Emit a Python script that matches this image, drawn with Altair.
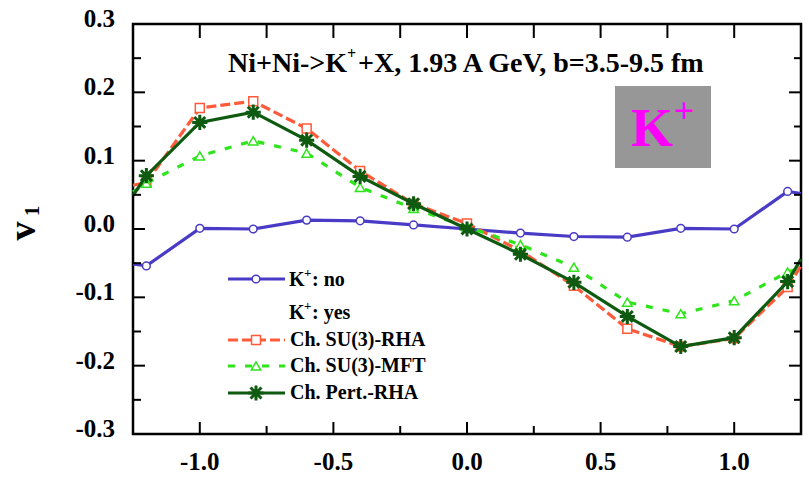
import altair as alt
import pandas as pd

# rapidity points (y_cm / y_proj) and the frame edges where the curves leave the box
rapidity = [-1.2, -1.0, -0.8, -0.6, -0.4, -0.2, 0.0, 0.2, 0.4, 0.6, 0.8, 1.0, 1.2]
edge_x = [-1.25, 1.25]

# directed flow v1 of K+ for each calculation
v1_no_pot = [-0.054, 0.001, 0.0, 0.013, 0.012, 0.006, 0.0, -0.006, -0.011, -0.012, 0.001, 0.0, 0.055]
v1_su3_rha = [0.068, 0.177, 0.187, 0.147, 0.085, 0.037, 0.008, -0.032, -0.083, -0.146, -0.172, -0.160, -0.085]
v1_su3_mft = [0.067, 0.107, 0.129, 0.111, 0.061, 0.030, 0.003, -0.023, -0.056, -0.107, -0.124, -0.105, -0.063]
v1_pert_rha = [0.078, 0.156, 0.171, 0.130, 0.077, 0.037, 0.0, -0.037, -0.078, -0.128, -0.172, -0.159, -0.077]

# values where each curve crosses the left / right frame
edge_no_pot = [-0.051, 0.052]
edge_su3_rha = [0.064, -0.054]
edge_su3_mft = [0.054, -0.057]
edge_pert_rha = [0.049, -0.044]

x_major = [-1.0, -0.5, 0.0, 0.5, 1.0]
x_minor = [-0.75, -0.25, 0.25, 0.75]
y_major = [-0.3, -0.2, -0.1, 0.0, 0.1, 0.2, 0.3]
y_minor = [-0.25, -0.15, -0.05, 0.05, 0.15, 0.25]
x_labels = ["-1.0", "-0.5", "0.0", "0.5", "1.0"]
y_labels = ["-0.3", "-0.2", "-0.1", "0.0", "0.1", "0.2", "0.3"]

W, H = 668, 410
FONT = "Liberation Serif"
STAR = "M-1,0L1,0M0,-1L0,1M-0.72,-0.72L0.72,0.72M-0.72,0.72L0.72,-0.72"

series = [
    # name, values, edges, color, dash, shape, marker size
    ("no", v1_no_pot, edge_no_pot, "#4a3bc6", None, "circle", 60),
    ("su3_rha", v1_su3_rha, edge_su3_rha, "#ff5a3a", [10, 4], "square", 80),
    ("su3_mft", v1_su3_mft, edge_su3_mft, "#2ee41a", [7, 10], "triangle-up", 90),
    ("pert_rha", v1_pert_rha, edge_pert_rha, "#0d5a10", None, STAR, 230),
]

xs = alt.Scale(domain=[-1.25, 1.25], nice=False, zero=False)
ys = alt.Scale(domain=[-0.3, 0.3], nice=False, zero=False)


def X(field):
    return alt.X(field, type="quantitative", scale=xs, axis=None)


def Y(field):
    return alt.Y(field, type="quantitative", scale=ys, axis=None)


def one():
    return alt.Data(values=[{"a": 0}])


def marker(data, color, shape, size):
    if shape == STAR:
        return alt.Chart(data).mark_point(shape=shape, filled=False, stroke=color,
                                          strokeWidth=3, size=size, opacity=1)
    return alt.Chart(data).mark_point(shape=shape, filled=True, fill="white",
                                      stroke=color, strokeWidth=1.5, size=size, opacity=1)


layers = []

for name, vals, edges, color, dash, shape, size in series:
    line_df = pd.DataFrame({
        "x": [edge_x[0]] + rapidity + [edge_x[1]],
        "v1": [edges[0]] + vals + [edges[1]],
    })
    pts_df = pd.DataFrame({"x": rapidity, "v1": vals})
    line_kw = dict(color=color, strokeWidth=3.2)
    if dash:
        line_kw["strokeDash"] = dash
    layers.append(alt.Chart(line_df).mark_line(**line_kw).encode(x=X("x"), y=Y("v1")))
    layers.append(marker(pts_df, color, shape, size).encode(x=X("x"), y=Y("v1")))


# inward ticks on all four sides
def xticks(vals, y0, y1):
    return alt.Chart(pd.DataFrame({"x": vals})).mark_rule(color="black", strokeWidth=2).encode(
        x=X("x"), y=alt.value(y0), y2=alt.value(y1))


def yticks(vals, x0, x1):
    return alt.Chart(pd.DataFrame({"v": vals})).mark_rule(color="black", strokeWidth=2).encode(
        y=Y("v"), x=alt.value(x0), x2=alt.value(x1))


layers += [
    xticks(x_major, H, H - 12),
    xticks(x_minor, H, H - 8),
    xticks(x_major + x_minor, 0, 14),
    yticks(y_major, 0, 12),
    yticks(y_minor, 0, 8),
    yticks(y_major, W, W - 12),
    yticks(y_minor, W, W - 7),
]

# tick labels
layers.append(
    alt.Chart(pd.DataFrame({"x": x_major, "t": x_labels})).mark_text(
        font=FONT, fontWeight="bold", fontSize=25, baseline="middle", align="center"
    ).encode(x=X("x"), y=alt.value(H + 28), text="t:N")
)
layers.append(
    alt.Chart(pd.DataFrame({"v": y_major, "t": y_labels})).mark_text(
        font=FONT, fontWeight="bold", fontSize=25, baseline="middle", align="right", dy=-5
    ).encode(y=Y("v"), x=alt.value(-18), text="t:N")
)


def label(text, x, y, size, color="black", align="left", baseline="middle", angle=0):
    kw = dict(font=FONT, fontWeight="bold", fontSize=size, color=color,
              align=align, baseline=baseline)
    if angle:
        kw["angle"] = angle
    return alt.Chart(one()).mark_text(**kw).encode(
        x=alt.value(x), y=alt.value(y), text=alt.value(text))


# y-axis title v1
layers.append(label("v", -109, 207, 38, align="center", angle=270))
layers.append(label("1", -100, 187, 21, align="center", angle=270))

# reaction title
layers.append(label("Ni+Ni->K", 95, 48, 28, baseline="alphabetic"))
layers.append(label("+", 214, 35, 16, baseline="alphabetic"))
layers.append(label("+X, 1.93 A GeV, b=3.5-9.5 fm", 225, 48, 28, baseline="alphabetic"))

# K+ badge
layers.append(
    alt.Chart(one()).mark_rect(color="#979797").encode(
        x=alt.value(482), x2=alt.value(578), y=alt.value(62), y2=alt.value(144))
)
layers.append(label("K", 519, 106, 54, color="#ff00ff", align="center"))
layers.append(label("+", 551, 88, 36, color="#ff00ff", align="center"))

# legend
legend_rows = [("no", 255), ("su3_rha", 316), ("su3_mft", 342), ("pert_rha", 369)]
legend_text = {
    "su3_rha": "Ch. SU(3)-RHA",
    "su3_mft": "Ch. SU(3)-MFT",
    "pert_rha": "Ch. Pert.-RHA",
}
style = {s[0]: s for s in series}
for name, yy in legend_rows:
    _, _, _, color, dash, shape, size = style[name]
    kw = dict(color=color, strokeWidth=3.2)
    if dash:
        kw["strokeDash"] = dash
    layers.append(alt.Chart(one()).mark_rule(**kw).encode(
        x=alt.value(95), x2=alt.value(152), y=alt.value(yy)))
    layers.append(marker(one(), color, shape, size).encode(x=alt.value(123), y=alt.value(yy)))
    if name in legend_text:
        layers.append(label(legend_text[name], 157, yy, 20))

layers.append(label("K", 156, 256, 20))
layers.append(label("+", 171, 249, 13))
layers.append(label(": no", 179, 256, 20))
layers.append(label("K", 156, 289, 20))
layers.append(label("+", 171, 282, 13))
layers.append(label(": yes", 179, 289, 20))

chart = alt.layer(*layers).properties(
    width=W, height=H,
    autosize=alt.AutoSizeParams(type="none"),
    padding={"left": 133, "top": 24, "right": 8, "bottom": 45},
    background="white",
).configure_view(stroke="black", strokeWidth=2.5)

chart.save("out.html", embed_options={"renderer": "svg", "actions": False})
